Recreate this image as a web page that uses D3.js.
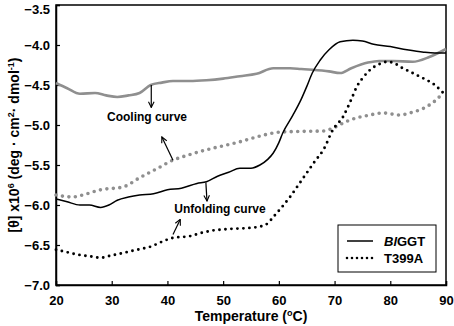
<!DOCTYPE html>
<html><head><meta charset="utf-8">
<script src="https://cdn.jsdelivr.net/npm/d3@7"></script>
<style>
html,body{margin:0;padding:0;background:#fff;}
svg{display:block;font-family:"Liberation Sans",Arial,sans-serif;}
</style></head>
<body>
<svg id="chart" width="454" height="326"></svg>
<script>
// Data (temperature °C, [θ] x10^6)
const coolingWT_x = [20,22,24.3,27,29,31,33,35,37,39,41,44,47,50,53,56,59,62,64,66,69,71,73,76,78,80.5,84,87,90];
const coolingWT_y = [-4.475,-4.54,-4.61,-4.6,-4.63,-4.65,-4.63,-4.6,-4.5,-4.47,-4.45,-4.45,-4.44,-4.42,-4.39,-4.36,-4.29,-4.29,-4.3,-4.31,-4.33,-4.35,-4.29,-4.22,-4.2,-4.2,-4.21,-4.15,-4.05];

const unfoldWT_x = [20,22,24.3,26,28,29.5,31,33,35,37.5,40,42.5,45.3,47,49,51,53,55,56.6,58,59,60,60.7,62.5,64,65,66,67.4,69,71,73.3,75,77,80,83,86,88,90];
const unfoldWT_y = [-5.925,-5.96,-6.0,-6.0,-6.03,-6.0,-5.94,-5.9,-5.875,-5.86,-5.81,-5.79,-5.73,-5.71,-5.64,-5.59,-5.54,-5.54,-5.5,-5.43,-5.35,-5.22,-5.1,-4.88,-4.68,-4.52,-4.35,-4.19,-4.06,-3.96,-3.94,-3.95,-3.99,-4.02,-4.06,-4.09,-4.1,-4.1];

const coolingMut_x = [20,23,25,28,32,35,38,41,44,47,50,53,56,60,64,68,69.7,72,74,76,78.7,81.7,84,86,88,89.5];
const coolingMut_y = [-5.875,-5.9,-5.87,-5.81,-5.775,-5.66,-5.55,-5.44,-5.37,-5.31,-5.26,-5.21,-5.15,-5.09,-5.08,-5.075,-5.04,-4.96,-4.91,-4.88,-4.85,-4.875,-4.84,-4.79,-4.7,-4.6];

const unfoldMut_x = [20,22,24.3,26,28,30,32,34.5,37,39,41,44,46,48,51,54,56.6,58,59,60.5,62,63.5,65,66.5,68,69.7,71.5,73,74,75.2,76.4,78,79.4,80.5,81.7,84,86,88,89.5];
const unfoldMut_y = [-6.56,-6.59,-6.625,-6.64,-6.66,-6.63,-6.6,-6.56,-6.52,-6.46,-6.41,-6.39,-6.35,-6.32,-6.3,-6.29,-6.27,-6.23,-6.15,-6.03,-5.9,-5.75,-5.6,-5.45,-5.31,-5.06,-4.9,-4.68,-4.52,-4.4,-4.31,-4.24,-4.21,-4.22,-4.27,-4.35,-4.42,-4.5,-4.6];

const xTicks = [20,30,40,50,60,70,80,90];
const yTicks = [-3.5,-4.0,-4.5,-5.0,-5.5,-6.0,-6.5,-7.0];
const legendLabels = ["BlGGT","T399A"];

const svg = d3.select("#chart");
const x = d3.scaleLinear().domain([20,90]).range([56,446]);
const y = d3.scaleLinear().domain([-7.0,-3.5]).range([285,5]);

// frame
svg.append("rect").attr("x",56).attr("y",5).attr("width",390).attr("height",280)
  .attr("fill","none").attr("stroke","#000").attr("stroke-width",1.5);

// axes
const xAxis = d3.axisBottom(x).tickValues(xTicks).tickSize(-4).tickFormat(d3.format("d"));
const gx = svg.append("g").attr("transform","translate(0,285)").call(xAxis);
gx.select(".domain").attr("stroke-width",1.5);
gx.selectAll("text").attr("dy","0").attr("y",20).attr("font-size",13).attr("font-weight","bold").attr("fill","#000");
gx.selectAll("line").attr("stroke-width",1.2);

const yAxis = d3.axisLeft(y).tickValues(yTicks).tickSize(-4).tickFormat(d3.format(".1f"));
const gy = svg.append("g").attr("transform","translate(56,0)").call(yAxis);
gy.select(".domain").attr("stroke-width",1.5);
gy.selectAll("text").attr("x",-6).attr("font-size",13).attr("font-weight","bold").attr("fill","#000")
  .attr("dy",d=>d===-3.5?"0.62em":"0.32em");
gy.selectAll("line").attr("stroke-width",1.2);

// axis titles
const xt = svg.append("text").attr("x",251).attr("y",321).attr("text-anchor","middle")
  .attr("font-size",14).attr("font-weight","bold");
xt.append("tspan").text("Temperature (");
xt.append("tspan").attr("font-size",9).attr("dy",-5).text("o");
xt.append("tspan").attr("dy",5).text("C)");

const yt = svg.append("text").attr("transform","translate(19,145) rotate(-90)").attr("text-anchor","middle")
  .attr("font-size",14).attr("font-weight","bold");
yt.append("tspan").text("[θ] x10");
yt.append("tspan").attr("font-size",9).attr("dy",-5).text("6");
yt.append("tspan").attr("dy",5).text(" (deg · cm");
yt.append("tspan").attr("font-size",9).attr("dy",-5).text("2");
yt.append("tspan").attr("dy",5).text("· dmol");
yt.append("tspan").attr("font-size",9).attr("dy",-5).text("-1");
yt.append("tspan").attr("dy",5).text(")");

const line = d3.line().x(d=>x(d[0])).y(d=>y(d[1])).curve(d3.curveMonotoneX);
const zip = (a,b)=>a.map((v,i)=>[v,b[i]]);

svg.append("path").datum(zip(coolingWT_x,coolingWT_y)).attr("d",line)
  .attr("fill","none").attr("stroke","#8f8f8f").attr("stroke-width",2.6);
svg.append("path").datum(zip(coolingMut_x,coolingMut_y)).attr("d",line)
  .attr("fill","none").attr("stroke","#8f8f8f").attr("stroke-width",3.6)
  .attr("stroke-linecap","round").attr("stroke-dasharray","0,6.5");
svg.append("path").datum(zip(unfoldWT_x,unfoldWT_y)).attr("d",line)
  .attr("fill","none").attr("stroke","#000").attr("stroke-width",1.5);
svg.append("path").datum(zip(unfoldMut_x,unfoldMut_y)).attr("d",line)
  .attr("fill","none").attr("stroke","#000").attr("stroke-width",2.9)
  .attr("stroke-linecap","round").attr("stroke-dasharray","0,6");

// annotations
const defs = svg.append("defs");
defs.append("marker").attr("id","ah").attr("viewBox","0 0 10 10").attr("refX",9).attr("refY",5)
  .attr("markerWidth",7).attr("markerHeight",7).attr("markerUnits","userSpaceOnUse").attr("orient","auto")
  .append("path").attr("d","M1,1 L9,5 L1,9").attr("fill","none").attr("stroke","#000").attr("stroke-width",1.6);

function arrow(x1,y1,x2,y2){
  svg.append("line").attr("x1",x(x1)).attr("y1",y(y1)).attr("x2",x(x2)).attr("y2",y(y2))
    .attr("stroke","#000").attr("stroke-width",1.2).attr("marker-end","url(#ah)");
}
arrow(37.1,-4.5,37.1,-4.78);
arrow(41.0,-5.44,39.0,-5.15);
arrow(46.9,-5.72,47.1,-5.95);
arrow(41.0,-6.37,42.3,-6.18);

svg.append("text").attr("x",147).attr("y",121).attr("text-anchor","middle")
  .attr("font-size",12).attr("font-weight","bold").text("Cooling curve");
svg.append("text").attr("x",220).attr("y",213).attr("text-anchor","middle")
  .attr("font-size",12).attr("font-weight","bold").text("Unfolding curve");

// legend
svg.append("rect").attr("x",338).attr("y",225).attr("width",98).attr("height",47)
  .attr("fill","#fff").attr("stroke","#000").attr("stroke-width",1);
svg.append("line").attr("x1",347).attr("x2",373).attr("y1",241).attr("y2",241)
  .attr("stroke","#000").attr("stroke-width",1.5);
svg.append("line").attr("x1",347).attr("x2",373).attr("y1",258).attr("y2",258)
  .attr("stroke","#000").attr("stroke-width",2.6).attr("stroke-linecap","round").attr("stroke-dasharray","0,5");
const l1 = svg.append("text").attr("x",384).attr("y",245.5).attr("font-size",13).attr("font-weight","bold");
l1.append("tspan").attr("font-style","italic").text(legendLabels[0].slice(0,2));
l1.append("tspan").text(legendLabels[0].slice(2));
svg.append("text").attr("x",384).attr("y",262.5).attr("font-size",13).attr("font-weight","bold").text(legendLabels[1]);
</script>
</body></html>
